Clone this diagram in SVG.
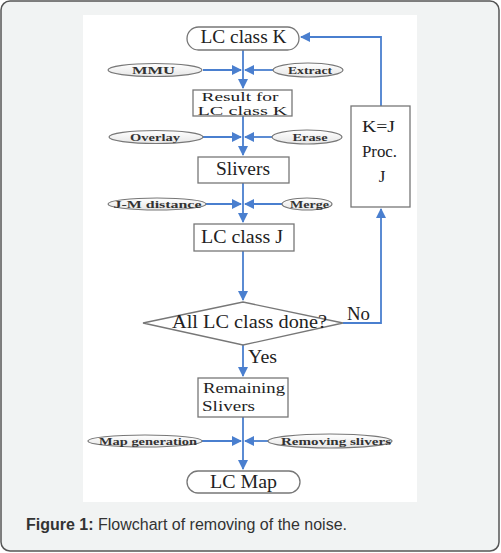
<svg xmlns="http://www.w3.org/2000/svg" width="501" height="553" viewBox="0 0 501 553">
<style>
.box{fill:#fff;stroke:#777;stroke-width:1.3}
.ell{fill:url(#eg);stroke:#777;stroke-width:1.2}
.t{font-family:"Liberation Serif","Times New Roman",serif;font-size:18px;fill:#222;text-anchor:middle}
.l{text-anchor:start}
.s{font-family:"Liberation Serif","Times New Roman",serif;font-size:11px;font-weight:bold;fill:#333;text-anchor:middle}
.c{stroke:#4a7fcf;stroke-width:1.8;fill:none}
.cap{font-family:"Liberation Sans",Arial,sans-serif;font-size:16px;fill:#333}
</style>
<defs>
<marker id="a" viewBox="0 0 10 10" refX="9" refY="5" markerWidth="10" markerHeight="10" orient="auto" markerUnits="userSpaceOnUse">
<path d="M0,0 L10,5 L0,10 z" fill="#4a7fcf"/>
</marker>
<linearGradient id="eg" x1="0" y1="0" x2="0" y2="1">
<stop offset="0" stop-color="#ffffff"/><stop offset="1" stop-color="#e6e6e6"/>
</linearGradient>
</defs>
<rect x="1" y="1" width="498" height="550" rx="9" fill="#f1f3f3" stroke="#555" stroke-width="1.5"/>
<rect x="83" y="15" width="334" height="487" fill="#fff"/>

<g id="connectors">
<path class="c" d="M243,50 V88" marker-end="url(#a)"/>
<path class="c" d="M243,116 V155" marker-end="url(#a)"/>
<path class="c" d="M243,183 V222" marker-end="url(#a)"/>
<path class="c" d="M243,251 V300" marker-end="url(#a)"/>
<path class="c" d="M243,345 V376" marker-end="url(#a)"/>
<path class="c" d="M243,417 V469" marker-end="url(#a)"/>
<path class="c" d="M203,70 H241" marker-end="url(#a)"/>
<path class="c" d="M273,70 H245" marker-end="url(#a)"/>
<path class="c" d="M203,137 H241" marker-end="url(#a)"/>
<path class="c" d="M272,137 H245" marker-end="url(#a)"/>
<path class="c" d="M206,204 H241" marker-end="url(#a)"/>
<path class="c" d="M282,204 H245" marker-end="url(#a)"/>
<path class="c" d="M202,441 H241" marker-end="url(#a)"/>
<path class="c" d="M268,441 H245" marker-end="url(#a)"/>
<path class="c" d="M343,323 H381 V209" marker-end="url(#a)"/>
<path class="c" d="M381,106 V37 H301" marker-end="url(#a)"/>
<text x="347" y="320" class="t l" textLength="23" lengthAdjust="spacingAndGlyphs">No</text>
<text x="248" y="363" class="t l" textLength="29" lengthAdjust="spacingAndGlyphs">Yes</text>
</g>

<g id="lcK"><rect class="box" x="187" y="27" width="112" height="23" rx="11.5"/><text class="t" x="243.5" y="43" textLength="86" lengthAdjust="spacingAndGlyphs">LC class K</text></g>
<g id="mmu"><ellipse class="ell" cx="155" cy="70" rx="47" ry="6.5"/><text class="s" x="153.5" y="74" textLength="43" lengthAdjust="spacingAndGlyphs">MMU</text></g>
<g id="extract"><ellipse class="ell" cx="308" cy="70" rx="35" ry="7"/><text class="s" x="310" y="74" textLength="44" lengthAdjust="spacingAndGlyphs">Extract</text></g>
<g id="result"><rect class="box" x="193" y="90" width="99" height="26"/><text class="t" x="240" y="101" style="font-size:12.5px" textLength="77" lengthAdjust="spacingAndGlyphs">Result for</text><text class="t" x="242.5" y="115" style="font-size:12.5px" textLength="90" lengthAdjust="spacingAndGlyphs">LC class K</text></g>
<g id="overlay"><ellipse class="ell" cx="156" cy="137" rx="47" ry="6.5"/><text class="s" x="155" y="141" textLength="50" lengthAdjust="spacingAndGlyphs">Overlay</text></g>
<g id="erase"><ellipse class="ell" cx="307" cy="137" rx="35" ry="7"/><text class="s" x="310" y="141" textLength="35" lengthAdjust="spacingAndGlyphs">Erase</text></g>
<g id="slivers"><rect class="box" x="198" y="157" width="91" height="26"/><text class="t" x="243" y="175" textLength="54" lengthAdjust="spacingAndGlyphs">Slivers</text></g>
<g id="jm"><ellipse class="ell" cx="157" cy="204" rx="49" ry="6"/><text class="s" x="157.5" y="208" textLength="88" lengthAdjust="spacingAndGlyphs">J-M distance</text></g>
<g id="merge"><ellipse class="ell" cx="307" cy="204" rx="25" ry="6"/><text class="s" x="309.5" y="208" textLength="39" lengthAdjust="spacingAndGlyphs">Merge</text></g>
<g id="lcJ"><rect class="box" x="194" y="224" width="100" height="27"/><text class="t" x="242" y="243" textLength="82" lengthAdjust="spacingAndGlyphs">LC class J</text></g>
<g id="kj"><rect class="box" x="351" y="106" width="59" height="101"/><text class="t" x="378.5" y="132" style="font-size:17px" textLength="33" lengthAdjust="spacingAndGlyphs">K=J</text><text class="t" x="379.5" y="157" style="font-size:17px" textLength="35" lengthAdjust="spacingAndGlyphs">Proc.</text><text class="t" x="382" y="182" style="font-size:17px">J</text></g>
<g id="done"><polygon class="box" points="143,323 243,302 343,323 243,345"/><text class="t" x="249.5" y="328" textLength="155" lengthAdjust="spacingAndGlyphs">All LC class done?</text></g>
<g id="remaining"><rect class="box" x="198" y="378" width="90" height="39"/><text class="t l" x="203" y="393" style="font-size:15px" textLength="82" lengthAdjust="spacingAndGlyphs">Remaining</text><text class="t l" x="202" y="410.5" style="font-size:15px" textLength="53" lengthAdjust="spacingAndGlyphs">Slivers</text></g>
<g id="mapgen"><ellipse class="ell" cx="145" cy="441" rx="57" ry="6"/><text class="s" x="148" y="445" textLength="98" lengthAdjust="spacingAndGlyphs">Map generation</text></g>
<g id="remsl"><ellipse class="ell" cx="330" cy="441" rx="62" ry="7"/><text class="s" x="336" y="445" textLength="110" lengthAdjust="spacingAndGlyphs">Removing slivers</text></g>
<g id="lcmap"><rect class="box" x="187" y="471" width="113" height="22" rx="11"/><text class="t" x="243.5" y="488" textLength="67" lengthAdjust="spacingAndGlyphs">LC Map</text></g>

<text class="cap" x="26" y="530"><tspan font-weight="bold">Figure 1:</tspan> Flowchart of removing of the noise.</text>
</svg>
